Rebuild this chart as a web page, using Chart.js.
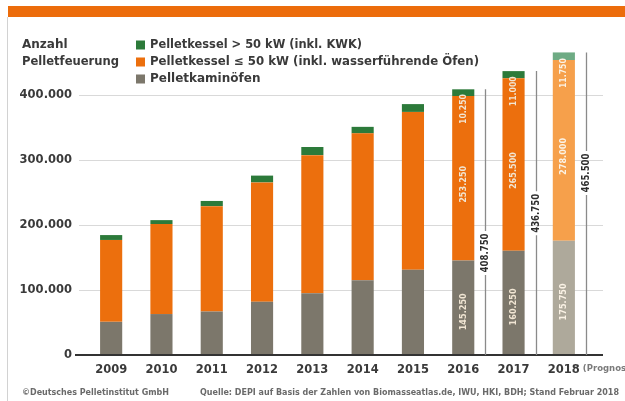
<!DOCTYPE html>
<html lang="de">
<head>
<meta charset="utf-8">
<title>Anzahl Pelletfeuerung</title>
<script src="https://cdn.jsdelivr.net/npm/chart.js@4/dist/chart.umd.min.js"></script>
<style>
    html, body { margin: 0; padding: 0; background: #fff; }
    #wrap { position: relative; width: 625px; height: 401px; overflow: hidden; }
</style>
</head>
<body>
<div id="wrap"><canvas id="pelletChart" width="625" height="401"></canvas></div>
<script>
// Data
const years = ['2009', '2010', '2011', '2012', '2013', '2014', '2015', '2016', '2017', '2018'];
const kaminoefen = [51000, 63000, 67000, 82000, 95000, 115000, 131000, 145250, 160250, 175750];
const kesselBis50 = [126000, 138500, 162000, 183500, 212500, 226000, 243000, 253250, 265500, 278000];
const kesselUeber50 = [7500, 6000, 8000, 10500, 12500, 10000, 12000, 10250, 11000, 11750];
const yTicks = [0, 100000, 200000, 300000, 400000];
const labelledYears = ['2016', '2017', '2018'];
const forecastYear = '2018';

const fmt = v => String(v).replace(/\B(?=(\d{3})+(?!\d))/g, '.');
const byYear = (base, forecast) => years.map(y => y === forecastYear ? forecast : base);

const FONT = "'DejaVu Sans', sans-serif";
const TEXT = '#3a3a3a';

const decorPlugin = {
    id: 'decor',
    beforeDraw(chart) {
        const ctx = chart.ctx;
        const y = chart.scales.y;
        ctx.save();
        ctx.fillStyle = '#fff';
        ctx.fillRect(0, 0, chart.width, chart.height);
        // orange header band + left frame line
        ctx.fillStyle = '#ec6c0b';
        ctx.fillRect(8, 6, chart.width - 8, 11);
        ctx.strokeStyle = '#d2d2d2';
        ctx.lineWidth = 1;
        ctx.beginPath();
        ctx.moveTo(7.5, 17);
        ctx.lineTo(7.5, chart.height);
        ctx.stroke();
        // grid lines
        ctx.strokeStyle = '#d9d9d9';
        yTicks.filter(v => v > 0).forEach(v => {
            const py = Math.round(y.getPixelForValue(v)) + 0.5;
            ctx.beginPath();
            ctx.moveTo(79, py);
            ctx.lineTo(603, py);
            ctx.stroke();
        });
        ctx.restore();
    },
    afterDatasetsDraw(chart, args, opts) {
        const ctx = chart.ctx;
        const y = chart.scales.y;
        const y0 = y.getPixelForValue(0);
        ctx.save();
        // base line
        ctx.strokeStyle = '#333';
        ctx.lineWidth = 2;
        ctx.beginPath();
        ctx.moveTo(75, y0);
        ctx.lineTo(603, y0);
        ctx.stroke();

        const vText = (txt, x, cy, font, color, maxW) => {
            ctx.save();
            ctx.translate(x, cy);
            ctx.rotate(-Math.PI / 2);
            ctx.font = font;
            ctx.fillStyle = color;
            ctx.textAlign = 'center';
            ctx.textBaseline = 'middle';
            ctx.fillText(txt, 0, 0, maxW);
            ctx.restore();
        };

        labelledYears.forEach((yr, k) => {
            const i = years.indexOf(yr);
            const g = chart.getDatasetMeta(0).data[i];
            const o = chart.getDatasetMeta(1).data[i];
            const t = chart.getDatasetMeta(2).data[i];
            const inFont = 'bold 9px ' + FONT;
            const inCol = yr === forecastYear ? '#fbf3e6' : '#f1e6d4';
            vText(fmt(kaminoefen[i]), g.x, (g.y + g.base) / 2 + 4, inFont, inCol, 37);
            vText(fmt(kesselBis50[i]), o.x, (o.y + o.base) / 2 + 6, inFont, inCol, 37);
            vText(fmt(kesselUeber50[i]), o.x, o.y + 13, inFont, inCol, 30);

            // total line with label
            const total = kaminoefen[i] + kesselBis50[i] + kesselUeber50[i];
            const lx = Math.round(g.x + 22) + 0.5;
            const cy = y.getPixelForValue(opts.totalLabelAt[k]);
            const half = 22;
            ctx.strokeStyle = '#8a8a8a';
            ctx.lineWidth = 1.3;
            ctx.beginPath();
            ctx.moveTo(lx, t.y);
            ctx.lineTo(lx, cy - half);
            ctx.moveTo(lx, cy + half);
            ctx.lineTo(lx, y0);
            ctx.stroke();
            vText(fmt(total), lx, cy, 'bold 10px ' + FONT, '#2e2e2e', 39);
        });
        ctx.restore();
    },
    afterDraw(chart) {
        const ctx = chart.ctx;
        const x = chart.scales.x;
        ctx.save();
        ctx.fillStyle = TEXT;
        ctx.textBaseline = 'middle';
        ctx.textAlign = 'left';
        ctx.font = 'bold 12px ' + FONT;
        ctx.fillText('Anzahl', 22, 45);
        ctx.fillText('Pelletfeuerung', 22, 62, 97);

        // legend, top item = top of stack
        const rows = [
            { ds: 2, y: 45, w: 212 },
            { ds: 1, y: 62, w: 329 },
            { ds: 0, y: 79, w: 117 }
        ];
        rows.forEach(r => {
            const ds = chart.data.datasets[r.ds];
            ctx.fillStyle = ds.legendColor;
            ctx.fillRect(136, r.y - 4.5, 9, 9);
            ctx.fillStyle = TEXT;
            ctx.fillText(ds.label, 150, r.y, r.w);
        });

        // forecast note after the last year label
        const lastX = x.getPixelForValue(years.length - 1);
        ctx.font = 'bold 8.5px ' + FONT;
        ctx.fillStyle = '#7a7a7a';
        ctx.fillText('(Prognose)', lastX + 19, 369);

        // footer
        ctx.font = 'bold 8px ' + FONT;
        ctx.fillStyle = '#6a6a6a';
        ctx.fillText('©Deutsches Pelletinstitut GmbH', 22, 393, 163);
        ctx.fillText('Quelle: DEPI auf Basis der Zahlen von Biomasseatlas.de, IWU, HKI, BDH; Stand Februar 2018', 200, 393);
        ctx.restore();
    }
};

const ctx = document.getElementById('pelletChart').getContext('2d');
new Chart(ctx, {
    type: 'bar',
    data: {
        labels: years,
        datasets: [
            {
                label: 'Pelletkaminöfen',
                data: kaminoefen,
                backgroundColor: byYear('#7c776b', '#aea99b'),
                legendColor: '#7c776b'
            },
            {
                label: 'Pelletkessel ≤ 50 kW (inkl. wasserführende Öfen)',
                data: kesselBis50,
                backgroundColor: byYear('#ec6f0d', '#f6a04b'),
                legendColor: '#ec6f0d'
            },
            {
                label: 'Pelletkessel > 50 kW (inkl. KWK)',
                data: kesselUeber50,
                backgroundColor: byYear('#2c7a3a', '#6eab84'),
                legendColor: '#2c7a3a'
            }
        ]
    },
    options: {
        responsive: false,
        animation: false,
        devicePixelRatio: 1,
        layout: { padding: { top: 43, right: 36, bottom: 0, left: 0 } },
        datasets: {
            bar: { barPercentage: 0.44, categoryPercentage: 1, borderWidth: 0 }
        },
        scales: {
            x: {
                stacked: true,
                grid: { display: false, drawTicks: false },
                border: { display: false },
                ticks: {
                    color: TEXT,
                    font: { family: FONT, size: 11.5, weight: 'bold' },
                    padding: 8,
                    maxRotation: 0
                },
                afterFit: s => { s.height = 46; }
            },
            y: {
                stacked: true,
                min: 0,
                max: 480000,
                grid: { display: false, drawTicks: false },
                border: { display: false },
                afterBuildTicks: s => { s.ticks = yTicks.map(v => ({ value: v })); },
                ticks: {
                    color: TEXT,
                    font: { family: FONT, size: 11.5, weight: 'bold' },
                    padding: 14,
                    callback: v => fmt(v)
                },
                afterFit: s => { s.width = 86; }
            }
        },
        plugins: {
            legend: { display: false },
            tooltip: { enabled: false },
            decor: { totalLabelAt: [157000, 218000, 280000] }
        }
    },
    plugins: [decorPlugin]
});
</script>
</body>
</html>
